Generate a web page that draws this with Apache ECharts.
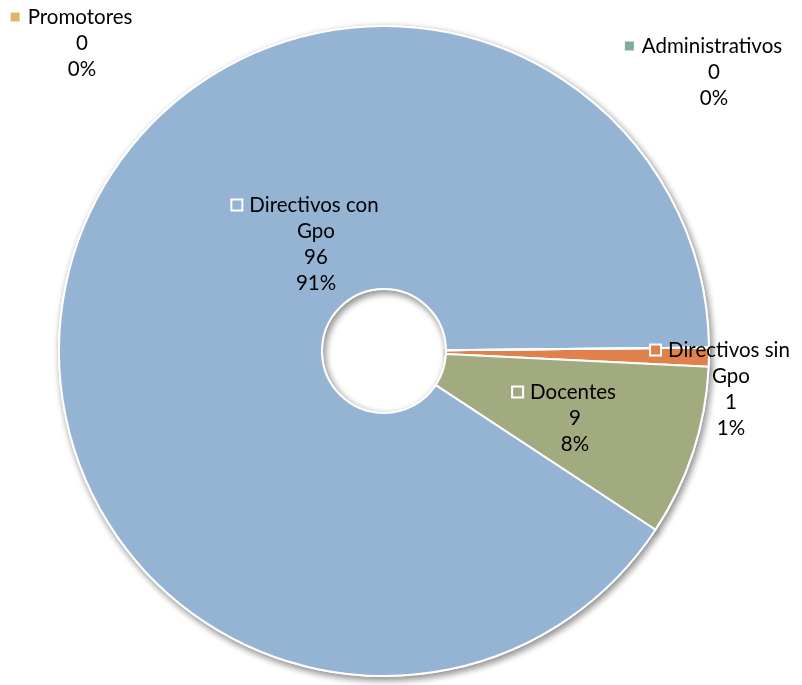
<!DOCTYPE html>
<html><head><meta charset="utf-8">
<script src="https://cdn.jsdelivr.net/npm/echarts@6/dist/echarts.min.js"></script>
<style>html,body{margin:0;padding:0;background:#fff}#c{width:802px;height:685px}</style>
</head><body><div id="c"></div>
<script>
const categories = ['Directivos sin Gpo', 'Docentes', 'Directivos con Gpo', 'Promotores', 'Administrativos'];
const labelNames = ['Directivos sin\nGpo', 'Docentes', 'Directivos con\nGpo', 'Promotores', 'Administrativos'];
const values = [1, 9, 96, 0, 0];
const percentLabels = ['1%', '8%', '91%', '0%', '0%'];
const colors = ['#E0804A', '#A2AA80', '#95B3D3', '#DDB867', '#7FAA9C'];
const labelPos = [[731, 389], [575, 418], [316, 244], [82, 43], [714, 72]];

const chart = echarts.init(document.getElementById('c'));
const FONT = 'Lato';
const data = categories.map((c, i) => {
  const rich = {
    m: { width: 9, height: 9, backgroundColor: colors[i], borderColor: '#fff', borderWidth: 2 },
    g: { width: 8 },
    s: { width: 21 },
    t: { fontFamily: FONT, fontSize: 20.5, color: '#000', lineHeight: 26 }
  };
  const lines = labelNames[i].split('\n');
  let txt = '{m|}{g|}{t|' + lines[0] + '}{s|}';
  for (let k = 1; k < lines.length; k++) txt += '\n{t|' + lines[k] + '}';
  txt += '\n{t|' + values[i] + '}\n{t|' + percentLabels[i] + '}';
  return {
    name: c, value: values[i],
    itemStyle: { color: colors[i] },
    label: { formatter: txt, rich: rich }
  };
});
const shadowData = categories.map((c, i) => ({ name: c, value: values[i], itemStyle: { color: colors[i] } }));

const common = {
  type: 'pie',
  center: [384, 351],
  radius: [62, 325],
  startAngle: 0.6,
  clockwise: true,
  avoidLabelOverlap: false,
  minShowLabelAngle: 0,
  stillShowZeroSum: true,
  emphasis: { disabled: true },
  labelLine: { show: false }
};

chart.setOption({
  animation: false,
  series: [
    Object.assign({}, common, {
      silent: true, z: 1,
      itemStyle: { borderColor: '#fff', borderWidth: 2, shadowBlur: 7, shadowColor: 'rgba(0,0,0,0.45)', shadowOffsetX: 2, shadowOffsetY: 3 },
      label: { show: false },
      data: shadowData
    }),
    Object.assign({}, common, {
      z: 2,
      itemStyle: { borderColor: '#fff', borderWidth: 2 },
      label: { show: true, position: 'inside', align: 'center', verticalAlign: 'middle', fontFamily: FONT, fontSize: 20.5, color: '#000' },
      labelLayout: function (p) {
        const pos = labelPos[p.dataIndex];
        return { x: pos[0], y: pos[1], align: 'center', verticalAlign: 'middle' };
      },
      data: data
    })
  ]
});
</script></body></html>
